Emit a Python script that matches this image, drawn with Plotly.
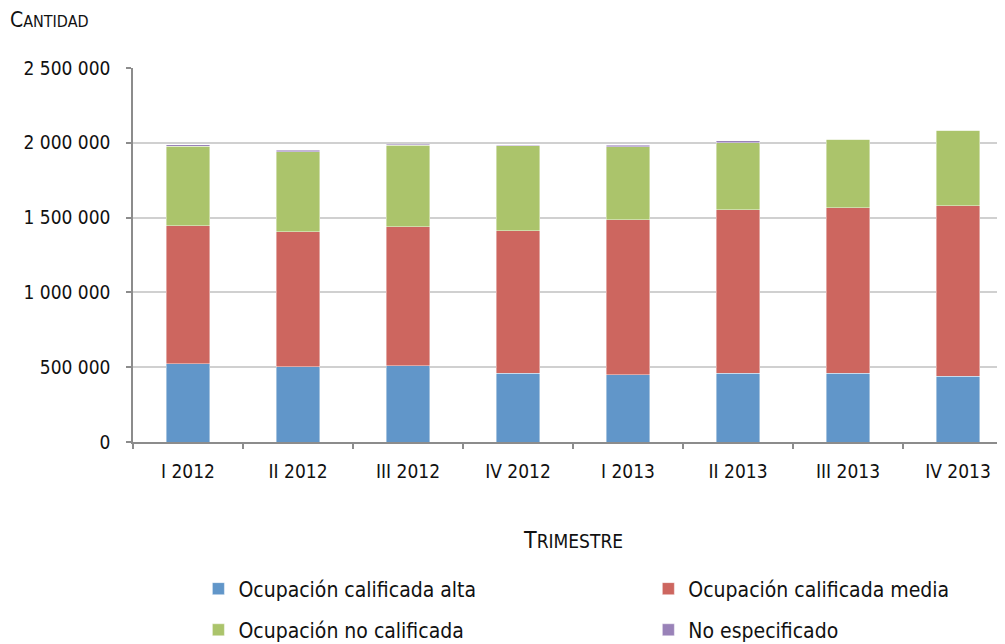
import plotly.graph_objects as go

categories = ["I 2012", "II 2012", "III 2012", "IV 2012", "I 2013", "II 2013", "III 2013", "IV 2013"]
alta = [522000, 502000, 509000, 460000, 449000, 460000, 458000, 440000]
media = [925000, 905000, 931000, 953000, 1038000, 1093000, 1109000, 1140000]
no_calificada = [529000, 533000, 542000, 566000, 486000, 449000, 458000, 503000]
no_especificado = [11000, 11000, 7000, 3000, 9000, 11000, 0, 0]
y_ticks = [0, 500000, 1000000, 1500000, 2000000, 2500000]
y_tick_labels = ["0", "500 000", "1 000 000", "1 500 000", "2 000 000", "2 500 000"]

FONT = "DejaVu Sans Condensed, DejaVu Sans, sans-serif"

series = [
    ("Ocupación calificada alta", alta, "#6196C9", "legend"),
    ("Ocupación calificada media", media, "#CD665F", "legend2"),
    ("Ocupación no calificada", no_calificada, "#ABC46B", "legend3"),
    ("No especificado", no_especificado, "#9982B8", "legend4"),
]

fig = go.Figure()
for name, vals, col, lg in series:
    fig.add_trace(go.Bar(
        x=categories, y=vals, name=name, legend=lg,
        marker=dict(color=col, line=dict(color="rgba(255,255,255,0.6)", width=0.7)),
    ))

leg_common = dict(
    orientation="v", xanchor="left", yanchor="middle",
    font=dict(family=FONT, size=21, color="#111111"),
    itemwidth=30, bgcolor="rgba(0,0,0,0)",
)

col1, col2 = 0.075, 0.591
row1, row2 = -0.393, -0.503

fig.update_layout(
    barmode="stack",
    bargap=0.606,
    width=997, height=636,
    margin=dict(l=125, r=0, t=60, b=202, autoexpand=False),
    plot_bgcolor="white", paper_bgcolor="white",
    font=dict(family=FONT, size=18, color="#111111"),
    showlegend=True,
    legend=dict(x=col1, y=row1, **leg_common),
    legend2=dict(x=col2, y=row1, **leg_common),
    legend3=dict(x=col1, y=row2, **leg_common),
    legend4=dict(x=col2, y=row2, **leg_common),
    xaxis=dict(
        type="category", range=[-0.5, 7.427], automargin=False,
        showline=True, linecolor="#8c8c8c", linewidth=1.5,
        ticks="outside", ticklen=5, tickcolor="#8c8c8c", tickwidth=1.5,
        tickson="boundaries", showgrid=False, ticklabelstandoff=11,
        tickfont=dict(family=FONT, size=19, color="#111111"),
    ),
    yaxis=dict(
        range=[0, 2500000], tickvals=y_ticks, ticktext=y_tick_labels,
        automargin=False,
        showline=True, linecolor="#8c8c8c", linewidth=1.5,
        ticks="outside", ticklen=5, tickcolor="#8c8c8c", tickwidth=1.5,
        showgrid=True, gridcolor="#d0d0d0", gridwidth=1.5,
        zeroline=False,
        tickfont=dict(family=FONT, size=19, color="#111111"),
        ticklabelstandoff=12,
    ),
    annotations=[
        dict(text="C<span style='font-size:16px'>ANTIDAD</span>", xref="paper", yref="paper",
             x=-0.143, y=1.128, xanchor="left", yanchor="middle", showarrow=False,
             font=dict(family=FONT, size=21, color="#111111")),
        dict(text="T<span style='font-size:19px'>RIMESTRE</span>", xref="paper", yref="paper",
             x=0.505, y=-0.262, xanchor="center", yanchor="middle", showarrow=False,
             font=dict(family=FONT, size=23, color="#111111")),
    ],
)

fig.write_html("out.html")
